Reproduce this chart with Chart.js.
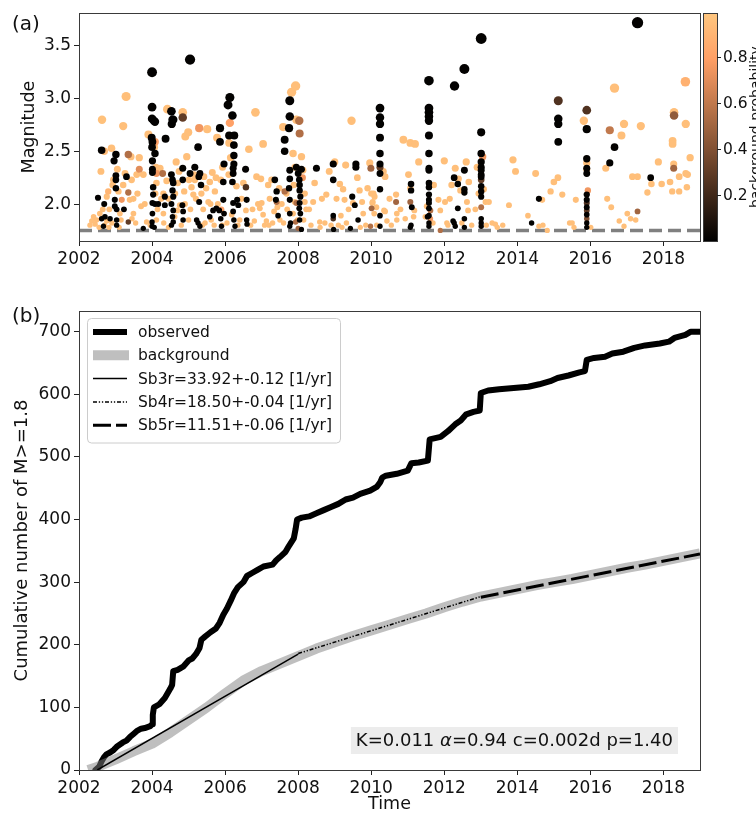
<!DOCTYPE html>
<html><head><meta charset="utf-8">
<script src="https://cdn.jsdelivr.net/npm/chart.js@4.4.1/dist/chart.umd.min.js"></script>
<style>
html,body{margin:0;padding:0;background:#fff;}
#wrap{position:relative;width:756px;height:815px;overflow:hidden;background:#fff;}
#ca{position:absolute;left:0;top:0;width:756px;height:290px;}
#cb{position:absolute;left:0;top:290px;width:756px;height:525px;}
</style></head><body>
<div id="wrap">
<canvas id="ca" width="756" height="290"></canvas>
<canvas id="cb" width="756" height="525"></canvas>
</div>
<script>
// ---------- Panel (a): events [decimal year, magnitude, background probability] ----------
const quakes2002 = [[2002.30,1.80,.95],[2002.35,1.84,.95],[2002.40,1.88,.95],[2002.44,1.81,.95],[2002.48,1.85,.94],[2002.52,2.06,.01],[2002.55,1.78,.95],[2002.57,1.91,.95],[2002.60,2.31,.95],[2002.62,2.51,.01],[2002.62,1.86,.01],[2002.63,2.80,.96],[2002.65,1.95,.95],[2002.67,1.79,.01],[2002.69,2.50,.93],[2002.69,2.00,.01],[2002.70,1.80,.95],[2002.71,1.88,.01],[2002.76,1.84,.95],[2002.76,2.07,.95],[2002.80,2.12,.90],[2002.82,1.78,.95],[2002.83,1.95,.95],[2002.85,1.86,.01],[2002.89,2.53,.95],[2002.90,1.82,.95],[2002.92,2.18,.95],[2002.94,2.23,.95],[2002.96,2.41,.01],[2002.98,2.04,.01],[2002.98,1.98,.01],[2003.01,2.47,.01],[2003.01,2.27,.01],[2003.01,2.23,.01],[2003.01,2.15,.01],[2003.03,1.95,.01],[2003.03,1.85,.01],[2003.03,1.80,.01],[2003.05,2.33,.95],[2003.08,2.12,.95],[2003.10,1.78,.95],[2003.12,1.91,.95],[2003.15,1.85,.95],[2003.17,2.04,.75],[2003.21,2.74,.95],[2003.21,2.18,.95],[2003.23,1.95,.01],[2003.26,2.29,.95],[2003.29,3.02,.95],[2003.30,2.26,.01],[2003.35,2.47,.55],[2003.35,2.11,.55],[2003.35,1.83,.30],[2003.39,2.04,.95],[2003.42,2.45,.95],[2003.44,2.23,.95],[2003.45,1.86,.95],[2003.49,2.05,.95],[2003.49,1.91,.95],[2003.55,1.82,.95],[2003.58,2.28,.95],[2003.60,2.10,.95],[2003.65,2.33,.70],[2003.65,2.44,.95],[2003.70,1.98,.95],[2003.76,2.28,.95],[2003.76,1.77,.01],[2003.80,2.00,.95],[2003.85,1.83,.95],[2003.90,2.66,.95],[2003.95,1.80,.95]];
const quakes2004 = [[2003.99,2.63,.01],[2004.00,3.25,.01],[2004.00,2.92,.01],[2004.00,2.81,.01],[2004.00,2.54,.01],[2004.00,1.83,.01],[2004.00,1.79,.01],[2004.01,2.59,.01],[2004.01,2.41,.01],[2004.01,2.33,.01],[2004.01,2.30,.01],[2004.01,2.01,.01],[2004.01,1.91,.01],[2004.03,2.16,.01],[2004.03,2.09,.01],[2004.05,2.79,.01],[2004.06,1.78,.01],[2004.06,2.54,.95],[2004.08,2.78,.01],[2004.08,2.00,.01],[2004.08,2.59,.80],[2004.08,2.48,.01],[2004.09,2.10,.95],[2004.11,2.35,.95],[2004.12,2.29,.75],[2004.12,2.20,.95],[2004.12,1.85,.95],[2004.15,1.95,.95],[2004.17,2.00,.01],[2004.22,2.34,.95],[2004.25,2.05,.95],[2004.29,2.29,.55],[2004.31,2.10,.95],[2004.31,1.91,.95],[2004.32,1.82,.95],[2004.35,2.07,.01],[2004.35,1.99,.01],[2004.37,2.62,.01],[2004.40,2.22,.95],[2004.42,2.90,.95],[2004.45,2.05,.95],[2004.45,1.78,.95],[2004.53,2.88,.01],[2004.53,2.28,.01],[2004.53,2.00,.01],[2004.53,1.80,.01],[2004.54,2.76,.01],[2004.56,2.80,.01],[2004.56,2.23,.01],[2004.56,2.13,.01],[2004.56,1.88,.01],[2004.58,2.80,.01],[2004.58,2.20,.01],[2004.58,2.07,.01],[2004.58,1.94,.01],[2004.58,1.83,.01],[2004.62,1.88,.95],[2004.63,2.10,.95],[2004.66,2.40,.95],[2004.69,1.94,.95],[2004.70,2.20,.95],[2004.74,2.31,.95],[2004.76,1.99,.95],[2004.80,1.80,.95],[2004.83,1.99,.01],[2004.84,2.87,.95],[2004.84,2.82,.30],[2004.84,2.34,.01],[2004.84,2.23,.01],[2004.85,1.93,.01],[2004.85,1.85,.01],[2004.88,2.12,.95],[2004.90,2.00,.95],[2004.91,2.64,.95],[2004.95,2.45,.95],[2004.99,2.68,.95],[2005.00,1.85,.95],[2005.01,2.23,.95],[2005.04,3.37,.01],[2005.04,2.29,.01],[2005.05,1.95,.95],[2005.08,2.16,.95],[2005.13,2.09,.95],[2005.15,2.28,.95],[2005.17,2.23,.95],[2005.17,2.35,.01],[2005.20,2.05,.95],[2005.22,1.85,.01],[2005.26,2.54,.01],[2005.26,1.82,.01],[2005.28,2.26,.01],[2005.29,2.72,.75],[2005.29,2.02,.01],[2005.31,2.29,.01],[2005.31,1.79,.01],[2005.34,2.18,.01],[2005.35,2.10,.95],[2005.38,1.80,.95],[2005.40,1.95,.95],[2005.42,2.26,.95],[2005.45,1.82,.95],[2005.48,2.15,.95],[2005.51,2.71,.95],[2005.54,2.02,.95],[2005.58,2.21,.95],[2005.58,1.88,.01],[2005.60,2.00,.95],[2005.62,1.85,.95],[2005.65,2.30,.95],[2005.67,1.94,.01],[2005.70,1.80,.95],[2005.72,2.12,.95],[2005.75,2.25,.95],[2005.76,1.96,.01],[2005.78,2.63,.95],[2005.80,2.00,.95],[2005.84,1.94,.01],[2005.86,2.72,.01],[2005.86,2.59,.01],[2005.88,2.23,.95],[2005.88,1.86,.01],[2005.90,1.79,.01],[2005.90,1.95,.80],[2005.92,1.80,.95],[2005.93,2.35,.95],[2005.95,2.21,.01],[2005.95,2.04,.01],[2005.97,1.91,.01],[2005.97,2.38,.01]];
const quakes2006 = [[2006.05,1.82,.95],[2006.08,2.94,.01],[2006.10,2.28,.95],[2006.11,2.65,.01],[2006.11,2.58,.95],[2006.13,3.01,.01],[2006.13,2.77,.80],[2006.15,2.44,.95],[2006.18,1.90,.95],[2006.20,2.84,.01],[2006.20,2.21,.01],[2006.22,2.34,.01],[2006.22,2.29,.01],[2006.22,2.01,.01],[2006.22,1.93,.01],[2006.24,2.56,.01],[2006.24,2.46,.01],[2006.24,2.38,.01],[2006.24,1.85,.01],[2006.25,2.65,.01],[2006.27,1.79,.01],[2006.31,2.17,.95],[2006.33,2.04,.01],[2006.35,1.80,.95],[2006.36,1.99,.01],[2006.40,1.85,.95],[2006.45,2.05,.95],[2006.50,2.20,.95],[2006.56,2.33,.01],[2006.57,2.16,.25],[2006.57,1.94,.95],[2006.59,2.04,.01],[2006.59,1.85,.01],[2006.60,1.81,.01],[2006.65,2.52,.95],[2006.70,1.80,.95],[2006.75,1.95,.95],[2006.80,1.84,.95],[2006.83,2.87,.95],[2006.86,2.26,.95],[2006.90,2.00,.95],[2006.95,1.96,.95],[2006.98,2.24,.95],[2007.00,2.01,.95],[2007.04,2.57,.95],[2007.04,1.90,.95],[2007.08,1.80,.95],[2007.13,1.84,.95],[2007.18,2.18,.95],[2007.20,1.80,.95],[2007.22,2.05,.95],[2007.27,2.23,.95],[2007.30,1.82,.95],[2007.34,1.93,.95],[2007.36,2.23,.01],[2007.39,2.04,.01],[2007.41,2.12,.01],[2007.41,2.02,.55],[2007.43,1.97,.95],[2007.45,1.89,.01],[2007.48,2.15,.95],[2007.50,1.85,.95],[2007.55,2.00,.95],[2007.59,2.73,.95],[2007.60,1.82,.95],[2007.63,2.61,.01],[2007.63,2.50,.01],[2007.63,2.12,.55],[2007.68,2.10,.95],[2007.70,1.95,.95],[2007.75,2.72,.01],[2007.75,2.15,.01],[2007.77,2.98,.01],[2007.77,2.83,.01],[2007.77,2.32,.01],[2007.77,2.24,.01],[2007.77,2.04,.01],[2007.77,1.91,.01],[2007.77,1.79,.01],[2007.79,1.82,.01],[2007.82,3.06,.95],[2007.86,2.48,.95],[2007.86,1.91,.95],[2007.88,2.18,.95],[2007.91,2.35,.95],[2007.91,2.02,.95],[2007.93,3.12,.95],[2007.93,1.83,.55],[2007.95,2.80,.95],[2007.95,2.35,.01],[2007.95,2.01,.55],[2007.98,1.85,.95],[2008.00,2.29,.01],[2008.00,1.77,.50],[2008.03,2.79,.55],[2008.03,2.23,.01],[2008.03,1.96,.01],[2008.04,2.67,.55],[2008.04,2.18,.01],[2008.04,2.13,.01],[2008.04,2.01,.01],[2008.04,1.85,.01],[2008.06,2.07,.01],[2008.06,1.91,.01],[2008.09,2.33,.01],[2008.09,1.76,.01],[2008.09,2.45,.95],[2008.12,2.25,.75],[2008.13,2.32,.95],[2008.15,1.85,.95],[2008.18,2.10,.95],[2008.18,2.02,.95]];
const quakes2008 = [[2008.22,1.95,.95],[2008.30,1.95,.95],[2008.35,1.80,.95],[2008.41,2.02,.95],[2008.45,2.20,.95],[2008.50,2.34,.01],[2008.59,1.83,.95],[2008.60,1.78,.95],[2008.65,2.05,.95],[2008.73,1.82,.95],[2008.77,2.09,.95],[2008.85,2.31,.95],[2008.90,1.80,.95],[2008.96,2.38,.01],[2008.96,2.23,.01],[2008.96,1.89,.01],[2008.96,1.86,.25],[2008.97,1.76,.01],[2009.00,2.40,.95],[2009.05,2.05,.95],[2009.10,1.80,.95],[2009.14,2.19,.95],[2009.17,1.89,.95],[2009.20,1.78,.95],[2009.23,2.14,.95],[2009.27,2.04,.95],[2009.30,2.37,.95],[2009.32,1.82,.95],[2009.38,1.95,.95],[2009.43,1.77,.01],[2009.46,2.79,.95],[2009.48,2.07,.01],[2009.50,2.01,.95],[2009.55,1.99,.01],[2009.58,2.38,.01],[2009.58,2.35,.01],[2009.62,2.25,.95],[2009.64,1.85,.01],[2009.68,2.13,.95],[2009.70,1.78,.95],[2009.75,2.02,.95],[2009.78,1.91,.95],[2009.85,1.80,.95],[2009.90,2.15,.95],[2009.96,2.39,.95],[2009.98,1.79,.55],[2009.99,2.34,.50]];
const quakes2010 = [[2010.00,2.10,.95],[2010.01,1.96,.50],[2010.03,2.01,.95],[2010.04,2.02,.95],[2010.06,2.10,.95],[2010.08,1.91,.95],[2010.09,2.07,.95],[2010.14,1.97,.95],[2010.15,1.80,.95],[2010.24,2.91,.01],[2010.24,2.82,.01],[2010.24,2.76,.01],[2010.24,2.63,.01],[2010.24,2.48,.01],[2010.24,2.38,.01],[2010.24,2.35,.30],[2010.24,2.29,.01],[2010.24,2.14,.01],[2010.24,1.89,.01],[2010.24,1.79,.01],[2010.33,2.31,.95],[2010.35,1.94,.95],[2010.38,2.26,.95],[2010.38,1.93,.95],[2010.43,1.84,.95],[2010.50,2.05,.95],[2010.55,1.80,.95],[2010.68,2.09,.95],[2010.68,2.02,.50],[2010.70,1.91,.95],[2010.70,1.85,.95],[2010.80,1.95,.95],[2010.88,2.61,.95],[2010.93,1.86,.95],[2011.02,2.28,.95],[2011.07,2.58,.95],[2011.07,2.15,.95],[2011.07,2.02,.50],[2011.07,1.78,.01],[2011.09,2.19,.01],[2011.09,2.13,.01],[2011.09,1.80,.01],[2011.11,1.97,.01],[2011.16,1.88,.95],[2011.18,1.94,.95],[2011.20,2.57,.95],[2011.30,2.40,.95],[2011.48,1.88,.95],[2011.52,1.98,.95],[2011.54,1.88,.01],[2011.58,3.17,.01],[2011.58,2.91,.01],[2011.58,2.87,.01],[2011.58,2.83,.01],[2011.58,2.79,.01],[2011.58,2.65,.01],[2011.58,2.48,.01],[2011.58,2.34,.01],[2011.58,2.32,.01],[2011.58,2.20,.01],[2011.58,2.16,.01],[2011.58,2.09,.01],[2011.58,2.04,.01],[2011.58,2.01,.01],[2011.58,1.96,.01],[2011.58,1.89,.01],[2011.58,1.82,.01],[2011.58,1.79,.01],[2011.62,1.94,.55],[2011.62,1.86,.75],[2011.69,1.82,.95],[2011.71,2.18,.95],[2011.84,2.04,.95],[2011.89,1.94,.95],[2011.89,1.75,.55]];
const quakes2012 = [[2012.00,2.41,.95],[2012.02,2.02,.95],[2012.07,1.82,.95],[2012.10,1.80,.95],[2012.15,2.05,.95],[2012.20,2.18,.95],[2012.24,1.84,.01],[2012.27,2.25,.01],[2012.27,1.82,.01],[2012.28,3.12,.01],[2012.30,2.34,.95],[2012.30,1.79,.01],[2012.37,2.19,.01],[2012.37,1.96,.01],[2012.39,2.24,.95],[2012.44,2.13,.95],[2012.48,1.82,.95],[2012.55,3.28,.01],[2012.55,2.32,.01],[2012.55,2.14,.01],[2012.55,2.11,.01],[2012.55,1.86,.01],[2012.55,1.78,.01],[2012.60,2.40,.95],[2012.62,2.02,.95],[2012.65,1.94,.95],[2012.67,2.21,.95],[2012.75,1.80,.95],[2012.85,1.95,.95],[2012.90,2.35,.95],[2012.94,2.10,.95],[2013.01,3.57,.01],[2013.01,2.68,.01],[2013.01,2.48,.01],[2013.01,2.40,.01],[2013.01,2.35,.01],[2013.01,2.32,.01],[2013.01,2.28,.01],[2013.01,2.26,.01],[2013.01,2.23,.30],[2013.01,2.17,.01],[2013.01,2.12,.01],[2013.01,2.07,.01],[2013.01,1.97,.55],[2013.01,1.86,.01],[2013.01,1.82,.01],[2013.01,1.79,.01],[2013.05,2.45,.75],[2013.08,2.14,.95],[2013.13,2.02,.95],[2013.15,1.80,.95],[2013.22,2.02,.95],[2013.31,1.82,.95],[2013.40,1.81,.95],[2013.45,1.78,.95],[2013.60,1.80,.95],[2013.77,1.99,.95],[2013.88,2.42,.95],[2013.95,2.31,.95]];
const quakes2014 = [[2014.29,1.89,.95],[2014.39,1.82,.01],[2014.50,2.29,.95],[2014.59,2.05,.01],[2014.59,1.79,.95],[2014.68,2.04,.95],[2014.70,1.80,.95],[2014.82,1.75,.95],[2014.91,2.12,.95],[2015.00,2.21,.95],[2015.11,2.25,.95],[2015.12,2.98,.25],[2015.12,2.81,.01],[2015.12,2.76,.01],[2015.12,2.59,.01],[2015.23,2.09,.95],[2015.43,1.82,.95],[2015.50,1.82,.95],[2015.55,1.78,.95],[2015.60,2.04,.95],[2015.82,2.79,.95],[2015.90,2.89,.25],[2015.90,2.71,.01],[2015.90,2.43,.01],[2015.90,2.39,.95],[2015.90,2.34,.01],[2015.90,2.33,.95],[2015.90,2.29,.01],[2015.90,2.09,.01],[2015.90,2.04,.01],[2015.90,2.01,.25],[2015.90,1.97,.01],[2015.90,1.94,.30],[2015.90,1.90,.01],[2015.90,1.86,.40],[2015.90,1.82,.01],[2015.90,1.78,.01],[2015.93,2.13,.75],[2016.01,1.78,.95]];
const quakes2016 = [[2016.42,2.34,.95],[2016.46,2.05,.95],[2016.53,2.70,.60],[2016.53,2.39,.01],[2016.57,1.97,.95],[2016.66,3.10,.95],[2016.66,2.54,.01],[2016.79,1.84,.95],[2016.85,2.65,.95],[2016.92,2.76,.95],[2016.92,1.79,.95],[2017.01,1.91,.95],[2017.10,1.86,.95],[2017.15,2.26,.95],[2017.24,1.85,.95],[2017.29,3.72,.01],[2017.29,2.26,.95],[2017.29,1.93,.50],[2017.38,2.74,.95],[2017.56,2.11,.95],[2017.65,2.25,.01],[2017.67,2.19,.95],[2017.86,2.40,.95],[2017.95,2.19,.95],[2018.18,2.21,.95],[2018.24,2.12,.95],[2018.25,2.60,.95],[2018.25,2.57,.95],[2018.28,2.38,.95],[2018.28,2.34,.50],[2018.29,2.87,.95],[2018.29,2.84,.45],[2018.43,2.26,.95],[2018.43,2.12,.95],[2018.60,3.16,.88],[2018.61,2.76,.95],[2018.61,2.29,.95],[2018.64,2.16,.95],[2018.66,2.28,.95],[2018.73,2.44,.95]];

const yearTicks = [2002, 2004, 2006, 2008, 2010, 2012, 2014, 2016, 2018];
const magTicks = [2.0, 2.5, 3.0, 3.5];
const probTicks = [0.2, 0.4, 0.6, 0.8];
const countTicks = [0, 100, 200, 300, 400, 500, 600, 700];
const yearRange = [2002, 2019];
const magRange = [1.65, 3.81];
const probRange = [0.0, 0.99];
const countRange = [0, 733];
const magCutoff = 1.75;

// ---------- Panel (b): cumulative counts ----------
const obsYears  = [2002.45,2002.55,2002.62,2002.68,2002.75,2002.85,2002.95,2003.05,2003.10,2003.20,2003.30,2003.40,2003.50,2003.60,2003.70,2003.80,2003.95,2004.00,2004.02,2004.05,2004.20,2004.35,2004.50,2004.55,2004.58,2004.70,2004.85,2005.00,2005.10,2005.20,2005.30,2005.35,2005.45,2005.60,2005.75,2005.85,2005.95,2006.05,2006.15,2006.25,2006.35,2006.50,2006.60,2006.75,2006.90,2007.05,2007.30,2007.40,2007.50,2007.65,2007.75,2007.88,2007.93,2007.97,2008.10,2008.30,2008.50,2008.70,2008.90,2009.10,2009.30,2009.50,2009.70,2009.97,2010.15,2010.25,2010.30,2010.40,2010.70,2011.00,2011.10,2011.30,2011.55,2011.60,2011.90,2012.10,2012.30,2012.45,2012.60,2012.80,2012.97,2013.00,2013.20,2013.50,2013.90,2014.30,2014.60,2014.90,2015.10,2015.40,2015.70,2015.85,2015.90,2016.10,2016.40,2016.60,2016.90,2017.20,2017.50,2017.90,2018.15,2018.30,2018.60,2018.75,2019.00];
const obsCounts = [0,5,14,20,25,28,32,38,40,44,47,53,58,63,66,67,70,73,88,100,105,115,130,136,158,160,165,175,178,185,195,208,213,220,226,235,248,258,270,283,292,300,310,315,320,325,328,335,340,348,358,370,385,400,403,405,410,415,420,425,432,435,441,446,452,460,467,470,473,478,490,491,494,528,532,541,552,558,568,572,574,602,606,608,610,612,616,621,626,630,635,637,655,658,660,665,668,674,678,681,684,690,695,700,700];
const bgYears  = [2002.25,2002.5,2003,2003.5,2004,2004.5,2005,2005.5,2006,2006.5,2007,2007.5,2008,2008.5,2009,2009.5,2010,2010.5,2011,2011.5,2012,2012.5,2013,2013.5,2014,2014.5,2015,2015.5,2016,2016.5,2017,2017.5,2018,2018.5,2019];
const bgCounts = [0,5,17,30,42,60,80,100,122,143,158,170,182,194,204,214,223,232,241,250,260,269,277,283,289,295,300,305,311,317,323,328,334,340,346];
const sb3Years = [2002.50, 2008.00], sb3Counts = [0, 185];
const sb4Years = [2008.00, 2013.00], sb4Counts = [186, 277];
const sb5Years = [2013.00, 2019.00], sb5Counts = [276, 345];
const seriesLabels = ['observed', 'background', 'Sb3r=33.92+-0.12 [1/yr]', 'Sb4r=18.50+-0.04 [1/yr]', 'Sb5r=11.51+-0.06 [1/yr]'];
const etasParts = [['K=0.011 ', false], ['\u03B1', true], ['=0.94 c=0.002d p=1.40', false]];

// ---------- helpers ----------
const FONT = "'DejaVu Sans', 'Liberation Sans', sans-serif";
Chart.defaults.font.family = FONT;
Chart.defaults.color = '#000';
function copper(p) {
  const t = Math.max(0, Math.min(1, (p - probRange[0]) / (probRange[1] - probRange[0])));
  return 'rgb(' + Math.round(255 * Math.min(1, 1.25 * t)) + ',' + Math.round(255 * 0.7812 * t) + ',' + Math.round(255 * 0.4975 * t) + ')';
}
const zip = (xs, ys) => xs.map((x, i) => ({x: x, y: ys[i]}));
const setTicks = list => (s => { s.ticks = list.map(v => ({value: v})); });
const FRAME = '#3a3a3a';

function xScale(heightPx, withTitle) {
  return {
    type: 'linear', min: yearRange[0], max: yearRange[1],
    afterBuildTicks: setTicks(yearTicks),
    afterFit: s => { s.height = heightPx; },
    border: {display: false},
    grid: {drawOnChartArea: false, tickLength: 5, color: '#222', tickWidth: 1},
    ticks: {font: {size: 17}, color: '#111', padding: 3, maxRotation: 0, autoSkip: false, callback: v => String(v)},
    title: withTitle ? {display: true, text: 'Time', font: {size: 17.5}, color: '#111', padding: {top: 0, bottom: 0}} : {display: false}
  };
}

// ---------- Panel (a) ----------
const allQuakes = [].concat(quakes2002, quakes2004, quakes2006, quakes2008, quakes2010, quakes2012, quakes2014, quakes2016);
const drawOrder = allQuakes.slice().sort((a, b) => b[2] - a[2]);

const panelAPlugin = {
  id: 'panelA',
  afterDraw(chart) {
    const {ctx, chartArea: a} = chart;
    ctx.save();
    ctx.strokeStyle = FRAME; ctx.lineWidth = 1;
    ctx.strokeRect(Math.round(a.left) + 0.5, Math.round(a.top) + 0.5, Math.round(a.right - a.left), Math.round(a.bottom - a.top));
    // colour bar
    const cb = chart.scales.cb;
    const x0 = Math.round(a.right) + 3, w = 14;
    const yTop = cb.getPixelForValue(probRange[1]), yBot = cb.getPixelForValue(probRange[0]);
    const g = ctx.createLinearGradient(0, yBot, 0, yTop);
    for (let i = 0; i <= 20; i++) { const t = i / 20; g.addColorStop(t, copper(probRange[0] + t * (probRange[1] - probRange[0]))); }
    ctx.fillStyle = g;
    ctx.fillRect(x0, yTop, w, yBot - yTop);
    ctx.strokeStyle = FRAME;
    ctx.strokeRect(x0 + 0.5, Math.round(yTop) + 0.5, w, Math.round(yBot - yTop));
    ctx.fillStyle = '#111';
    ctx.font = '15.5px ' + FONT;
    ctx.textAlign = 'left'; ctx.textBaseline = 'middle';
    ctx.strokeStyle = '#222';
    probTicks.forEach(v => {
      const y = Math.round(cb.getPixelForValue(v)) + 0.5;
      ctx.beginPath(); ctx.moveTo(x0 + w, y); ctx.lineTo(x0 + w + 4, y); ctx.stroke();
      ctx.fillText(v.toFixed(1), x0 + w + 6, y);
    });
    ctx.save();
    ctx.translate(760, (a.top + a.bottom) / 2);
    ctx.rotate(-Math.PI / 2);
    ctx.textAlign = 'center'; ctx.textBaseline = 'alphabetic';
    ctx.font = '14px ' + FONT;
    ctx.fillText('background probability', 0, 0);
    ctx.restore();
    ctx.font = '20px ' + FONT;
    ctx.textAlign = 'left'; ctx.textBaseline = 'alphabetic';
    ctx.fillText('(a)', 12, 30);
    ctx.restore();
  }
};

new Chart(document.getElementById('ca'), {
  type: 'scatter',
  data: {
    datasets: [
      {
        label: 'events',
        data: drawOrder.map(e => ({x: e[0], y: e[1]})),
        backgroundColor: drawOrder.map(e => copper(e[2])),
        pointRadius: drawOrder.map(e => 2.6 + (e[1] - magCutoff) * 1.55),
        pointHoverRadius: drawOrder.map(e => 2.6 + (e[1] - magCutoff) * 1.55),
        pointBorderWidth: 0, borderWidth: 0, order: 0
      },
      {
        label: 'cutoff',
        data: zip(yearRange, [magCutoff, magCutoff]),
        showLine: true, borderColor: '#808080', borderWidth: 3.5, borderDash: [13, 6],
        pointRadius: 0, order: 1
      }
    ]
  },
  options: {
    responsive: false, animation: false, events: [],
    layout: {padding: {left: 0, right: 56, top: 12, bottom: 0}},
    plugins: {legend: {display: false}, tooltip: {enabled: false}},
    scales: {
      x: xScale(49, false),
      y: {
        type: 'linear', min: magRange[0], max: magRange[1],
        afterBuildTicks: setTicks(magTicks),
        afterFit: s => { s.width = 79; },
        border: {display: false},
        grid: {drawOnChartArea: false, tickLength: 5, color: '#222'},
        ticks: {font: {size: 17}, color: '#111', padding: 3, callback: v => v.toFixed(1)},
        title: {display: true, text: 'Magnitude', font: {size: 17.5}, color: '#111', padding: {top: 19, bottom: 0}}
      },
      cb: {type: 'linear', position: 'right', display: false, min: probRange[0], max: probRange[1]}
    }
  },
  plugins: [panelAPlugin]
});

// ---------- Panel (b) ----------
const panelBPlugin = {
  id: 'panelB',
  afterDraw(chart) {
    const {ctx, chartArea: a} = chart;
    ctx.save();
    ctx.strokeStyle = FRAME; ctx.lineWidth = 1;
    ctx.strokeRect(Math.round(a.left) + 0.5, Math.round(a.top) + 0.5, Math.round(a.right - a.left), Math.round(a.bottom - a.top));
    // legend
    const ds = chart.data.datasets;
    ctx.font = '15.5px ' + FONT;
    let maxW = 0;
    ds.forEach(d => { maxW = Math.max(maxW, ctx.measureText(d.label).width); });
    const bx = a.left + 8, by = a.top + 7, rowH = 23.3;
    const textX = bx + 51;
    const bw = textX - bx + maxW + 8, bh = rowH * ds.length + 8;
    ctx.beginPath();
    ctx.roundRect(bx + 0.5, by + 0.5, bw, bh, 4);
    ctx.fillStyle = 'rgba(255,255,255,0.85)'; ctx.fill();
    ctx.strokeStyle = '#cccccc'; ctx.lineWidth = 1; ctx.stroke();
    ds.forEach((d, i) => {
      const cy = by + 14 + i * rowH;
      ctx.save();
      ctx.strokeStyle = d.borderColor; ctx.lineWidth = d.borderWidth;
      ctx.setLineDash(d.borderDash || []);
      ctx.lineCap = d.borderWidth > 4 ? 'square' : 'butt';
      const ext = d.borderWidth > 4 ? d.borderWidth / 2 : 0;
      ctx.beginPath(); ctx.moveTo(bx + 6 + ext, cy); ctx.lineTo(bx + 40 - ext + (d.borderWidth > 8 ? 2 : 0), cy); ctx.stroke();
      ctx.restore();
      ctx.fillStyle = '#111'; ctx.textAlign = 'left'; ctx.textBaseline = 'middle';
      ctx.fillText(d.label, textX, cy + 1);
    });
    // parameter box
    const FS = '18px ';
    const widths = etasParts.map(p => { ctx.font = (p[1] ? 'italic ' : '') + FS + FONT; return ctx.measureText(p[0]).width; });
    const tw = widths.reduce((s, v) => s + v, 0);
    const pad = 5;
    const rx = a.right - 22 - tw - 2 * pad, ry = a.bottom - 16 - 27;
    ctx.fillStyle = '#ececec';
    ctx.fillRect(rx, ry, tw + 2 * pad, 27);
    let tx = rx + pad;
    ctx.fillStyle = '#111'; ctx.textAlign = 'left'; ctx.textBaseline = 'middle';
    etasParts.forEach((p, i) => {
      ctx.font = (p[1] ? 'italic ' : '') + FS + FONT;
      ctx.fillText(p[0], tx, ry + 14);
      tx += widths[i];
    });
    ctx.font = '20px ' + FONT;
    ctx.textBaseline = 'alphabetic';
    ctx.fillText('(b)', 12, 32);
    ctx.restore();
  }
};

new Chart(document.getElementById('cb'), {
  type: 'scatter',
  data: {
    datasets: [
      {label: seriesLabels[0], data: zip(obsYears, obsCounts), showLine: true, borderColor: '#000', borderWidth: 6,
       borderJoinStyle: 'round', borderCapStyle: 'round', pointRadius: 0, order: 3},
      {label: seriesLabels[1], data: zip(bgYears, bgCounts), showLine: true, borderColor: 'rgba(128,128,128,0.5)', borderWidth: 10,
       borderJoinStyle: 'round', pointRadius: 0, order: 2},
      {label: seriesLabels[2], data: zip(sb3Years, sb3Counts), showLine: true, borderColor: '#000', borderWidth: 1.5, pointRadius: 0, order: 1},
      {label: seriesLabels[3], data: zip(sb4Years, sb4Counts), showLine: true, borderColor: '#000', borderWidth: 1.5, borderDash: [4, 1.8, 1.3, 1.8, 1.3, 1.8], pointRadius: 0, order: 1},
      {label: seriesLabels[4], data: zip(sb5Years, sb5Counts), showLine: true, borderColor: '#000', borderWidth: 3, borderDash: [18, 5], pointRadius: 0, order: 1}
    ]
  },
  options: {
    responsive: false, animation: false, events: [],
    layout: {padding: {left: 0, right: 56, top: 21, bottom: 0}},
    plugins: {legend: {display: false}, tooltip: {enabled: false}},
    scales: {
      x: xScale(45, true),
      y: {
        type: 'linear', min: countRange[0], max: countRange[1],
        afterBuildTicks: setTicks(countTicks),
        afterFit: s => { s.width = 79; },
        border: {display: false},
        grid: {drawOnChartArea: false, tickLength: 5, color: '#222'},
        ticks: {font: {size: 17}, color: '#111', padding: 3, callback: v => String(v)},
        title: {display: true, text: 'Cumulative number of M>=1.8', font: {size: 18}, color: '#111', padding: {top: 12, bottom: 0}}
      }
    }
  },
  plugins: [panelBPlugin]
});
</script>
</body></html>
